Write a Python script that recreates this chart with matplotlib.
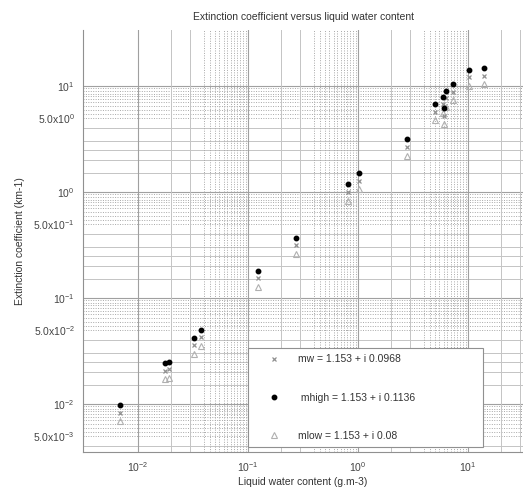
import numpy as np
import matplotlib
matplotlib.use("Agg")
import matplotlib.pyplot as plt

plt.rcParams['font.family'] = ['Liberation Sans', 'DejaVu Sans']
plt.rcParams['mathtext.fontset'] = 'custom'
plt.rcParams['mathtext.rm'] = 'Liberation Sans'
plt.rcParams['mathtext.default'] = 'regular'

# liquid water content (g.m-3)
lwc = [0.0069, 0.0176, 0.0191, 0.0323, 0.0374, 0.1225, 0.273, 0.805, 1.02,
       2.8, 5.04, 6.1, 5.96, 6.31, 7.26, 10.2, 14.0]
# extinction coefficient (km-1) for the three refractive indices
ext_mhigh = [0.0098, 0.0244, 0.025, 0.0423, 0.0499, 0.181, 0.371, 1.18, 1.5,
             3.14, 6.76, 6.17, 7.93, 9.03, 10.4, 14.2, 14.7]
ext_mw = [0.0083, 0.0207, 0.0213, 0.036, 0.0425, 0.154, 0.316, 1.0, 1.28,
          2.67, 5.75, 5.25, 6.75, 7.7, 8.85, 12.1, 12.5]
ext_mlow = [0.0069, 0.0172, 0.0176, 0.0298, 0.0351, 0.127, 0.261, 0.83, 1.06,
            2.21, 4.76, 4.34, 5.58, 6.36, 7.32, 10.0, 10.35]

labels = ["mw = 1.153 + i 0.0968", " mhigh = 1.153 + i 0.1136", "mlow = 1.153 + i 0.08"]

xticks = [1e-2, 1e-1, 1e0, 1e1]
xticklabels = [r'$10^{-2}$', r'$10^{-1}$', r'$10^{0}$', r'$10^{1}$']
yticks = [5e-3, 1e-2, 5e-2, 1e-1, 5e-1, 1e0, 5e0, 1e1]
yticklabels = [r'5.0x$10^{-3}$', r'$10^{-2}$', r'5.0x$10^{-2}$', r'$10^{-1}$',
               r'5.0x$10^{-1}$', r'$10^{0}$', r'5.0x$10^{0}$', r'$10^{1}$']

fig = plt.figure(figsize=(5.23, 4.97), dpi=100)
ax = fig.add_axes([0.1587, 0.0905, 0.8413, 0.849])
ax.set_xscale('log')
ax.set_yscale('log')
ax.set_xlim(10**-2.5, 10**1.5)
ax.set_ylim(10**-2.453, 10**1.528)

# messy grid: solid decades, light solid sub-lines, dotted dense bands
for k in range(-3, 1):
    base = 10.0**k
    for s in [1.5, 2, 2.5, 3, 4]:
        ax.axhline(s*base, color='#c4c4c4', lw=0.7, zorder=0)
    for s in np.arange(5, 10, 0.5):
        ax.axhline(s*base, color='#a8a8a8', lw=0.7, ls=(0, (1, 1.5)), zorder=0)
    ax.axhline(10*base, color='#a0a0a0', lw=0.8, zorder=0)
for k in range(-2, 2):
    base = 10.0**k
    ax.axvline(base, color='#a0a0a0', lw=0.8, zorder=0)
    for s in [2, 3]:
        ax.axvline(s*base, color='#c4c4c4', lw=0.7, zorder=0)
    for s in np.arange(4, 10, 0.5):
        if s*base < 31:
            ax.axvline(s*base, color='#a8a8a8', lw=0.7, ls=(0, (1, 1.5)), zorder=0)

ax.plot(lwc, ext_mlow, ls='none', marker='^', ms=3.8, mfc='none', mec='#b0b0b0',
        mew=0.8, label=labels[2], zorder=3)
ax.plot(lwc, ext_mw, ls='none', marker='x', ms=3.5, mec='#909090', mew=0.9,
        label=labels[0], zorder=4)
ax.plot(lwc, ext_mhigh, ls='none', marker='o', ms=3.2, mfc='black', mec='black',
        label=labels[1], zorder=5)

h, l = ax.get_legend_handles_labels()
order = [1, 2, 0]
leg = ax.legend([h[i] for i in order], [l[i] for i in order], loc='lower left',
                bbox_to_anchor=(0.375, 0.012, 0.534, 0.23), mode='expand',
                borderaxespad=0,
                fontsize=7.5, labelspacing=2.7, handlelength=3.8, handletextpad=0.4,
                fancybox=False, framealpha=1, edgecolor='#909090', borderpad=0.6)
leg.get_frame().set_linewidth(0.8)
for t in leg.get_texts():
    t.set_color('#333333')

ax.set_xticks(xticks)
ax.set_xticklabels(xticklabels)
ax.set_yticks(yticks)
ax.set_yticklabels(yticklabels)
ax.minorticks_off()
ax.tick_params(length=0, labelsize=7.5, labelcolor='#444444', pad=6)

for sp in ['top', 'right']:
    ax.spines[sp].set_visible(False)
for sp in ['left', 'bottom']:
    ax.spines[sp].set_color('#909090')
    ax.spines[sp].set_linewidth(0.8)

ax.set_title("Extinction coefficient versus liquid water content", fontsize=7.5,
             color='#333333', pad=7)
ax.set_xlabel("Liquid water content (g.m-3)", fontsize=7.5, color='#333333', labelpad=2)
ax.set_ylabel("Extinction coefficient (km-1)", fontsize=7.5, color='#333333', labelpad=6)

fig.savefig("out.png", dpi=100)
